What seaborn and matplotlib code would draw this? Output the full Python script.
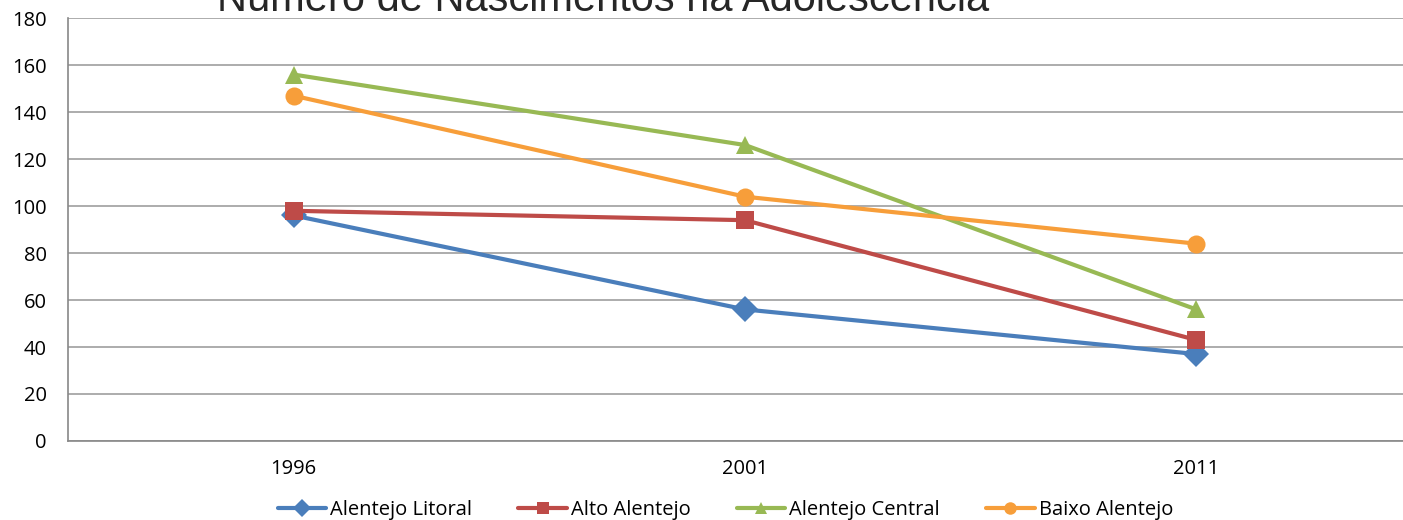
import pandas as pd
import numpy as np
import seaborn as sns
import matplotlib.pyplot as plt

# data
anos = ["1996", "2001", "2011"]
alentejo_litoral = [96, 56, 37]
alto_alentejo = [98, 94, 43]
alentejo_central = [156, 126, 56]
baixo_alentejo = [147, 104, 84]

regioes = ["Alentejo Litoral", "Alto Alentejo", "Alentejo Central", "Baixo Alentejo"]
cores = ["#4a7ebb", "#be4b48", "#98b954", "#f79e3a"]
marcadores = ["D", "s", "^", "o"]

df = pd.DataFrame({
    "ano": anos * 4,
    "regiao": np.repeat(regioes, 3),
    "valor": alentejo_litoral + alto_alentejo + alentejo_central + baixo_alentejo,
})

sns.set_style("white")
plt.rcParams['font.family'] = ['Open Sans', 'DejaVu Sans']

fig = plt.figure(figsize=(14.03, 5.2), dpi=100)
ax = fig.add_axes([0.0485, 0.152, 0.965, 0.813])

sns.lineplot(data=df, x="ano", y="valor", hue="regiao", style="regiao",
             palette=cores, markers=marcadores, dashes=False, linewidth=3,
             markersize=13, markeredgewidth=0, ax=ax, legend=False)

ax.set_ylim(0, 180)
ax.set_yticks(range(0, 181, 20))
ax.set_xlim(-0.5, 2.5)
ax.set_xticks([0, 1, 2])
ax.set_xticklabels(anos)
ax.set_xticks([-0.5, 0.5, 1.5, 2.5], minor=True)
ax.tick_params(axis="x", which="major", length=0, pad=13, labelsize=14.5,
               labelcolor="black")
ax.tick_params(axis="x", which="minor", length=7, color="#888888", width=1)
ax.tick_params(axis="y", length=6.5, color="#888888", width=1, labelsize=14.5,
               pad=9, labelcolor="black")
ax.yaxis.grid(True, color="#a6a6a6", linewidth=1.3)
ax.set_axisbelow(True)
ax.set_xlabel("")
ax.set_ylabel("")
for s in ["top", "right"]:
    ax.spines[s].set_visible(False)
for s in ["left", "bottom"]:
    ax.spines[s].set_color("#888888")
    ax.spines[s].set_linewidth(1.2)

# legend built from the same styles
handles = [plt.Line2D([], [], color=c, marker=m, linewidth=3, markersize=9,
                      markeredgewidth=0) for c, m in zip(cores, marcadores)]
fig.legend(handles, regioes, loc="center", bbox_to_anchor=(0.517, 0.02),
           ncol=4, frameon=False, fontsize=14.5, handlelength=2.4,
           handletextpad=0.2, columnspacing=2.3, labelcolor="black")

# title is cut off at the top of the original image
fig.text(0.43, 1.0, "Número de Nascimentos na Adolescência", ha="center",
         va="center", fontsize=30, family=['Liberation Sans', 'DejaVu Sans'])

plt.savefig("out.png", dpi=100)
